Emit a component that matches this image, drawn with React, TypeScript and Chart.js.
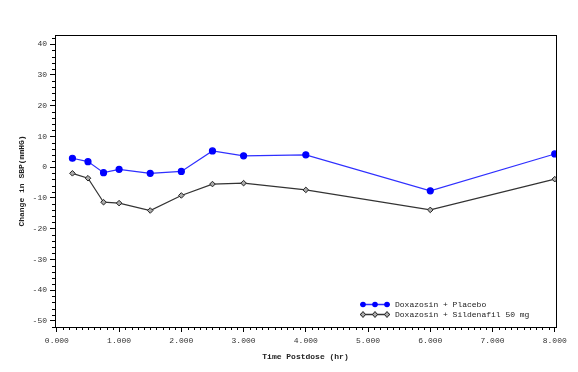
import React, { useEffect, useRef } from "react";
import { Chart, registerables } from "chart.js";

Chart.register(...registerables);

const times = [0.25, 0.5, 0.75, 1, 1.5, 2, 2.5, 3, 4, 6, 8];
const placebo = [2.9, 1.8, -1.8, -0.7, -2.0, -1.4, 5.3, 3.7, 4.0, -7.7, 4.3];
const sildenafil = [-2.0, -3.6, -11.4, -11.7, -14.1, -9.2, -5.5, -5.2, -7.4, -13.9, -3.9];
const xTicks = [0, 1, 2, 3, 4, 5, 6, 7, 8];
const yTicks = [-50, -40, -30, -20, -10, 0, 10, 20, 30, 40];
const seriesLabels = ["Doxazosin + Placebo", "Doxazosin + Sildenafil 50 mg"];

const FONT = "'Liberation Mono', 'DejaVu Sans Mono', monospace";

const framePlugin = {
  id: "frameAndMinor",
  afterDraw(chart: any) {
    const ctx = chart.ctx;
    const { left, right, top, bottom } = chart.chartArea;
    const xs = chart.scales.x;
    const ys = chart.scales.y;
    ctx.save();
    ctx.strokeStyle = "#000";
    ctx.lineWidth = 1;
    ctx.strokeRect(Math.round(left) + 0.5, Math.round(top) + 0.5, Math.round(right - left), Math.round(bottom - top));
    ctx.beginPath();
    for (let i = 0; i <= 80; i++) {
      if (i % 10 === 0) continue;
      const px = Math.round(xs.getPixelForValue(i / 10)) + 0.5;
      ctx.moveTo(px, Math.round(bottom));
      ctx.lineTo(px, Math.round(bottom) + 3);
    }
    for (let v = -52; v <= 43; v += 2) {
      if (v % 10 === 0) continue;
      const py = Math.round(ys.getPixelForValue(v)) + 0.5;
      ctx.moveTo(Math.round(left), py);
      ctx.lineTo(Math.round(left) - 3, py);
    }
    ctx.stroke();

    // legend
    const lx = 360;
    let ly = 304;
    chart.data.datasets.forEach((ds: any, i: number) => {
      const y = ly + i * 10;
      ctx.strokeStyle = ds.borderColor;
      ctx.lineWidth = 1.5;
      ctx.beginPath();
      ctx.moveTo(lx, y + 0.5);
      ctx.lineTo(lx + 30, y + 0.5);
      ctx.stroke();
      for (let k = 0; k < 3; k++) {
        const cx = lx + 3 + k * 12;
        ctx.beginPath();
        if (ds.pointStyle === "circle") {
          ctx.fillStyle = ds.pointBackgroundColor;
          ctx.arc(cx, y + 0.5, 2.8, 0, Math.PI * 2);
          ctx.fill();
        } else {
          ctx.fillStyle = ds.pointBackgroundColor;
          ctx.strokeStyle = ds.pointBorderColor;
          ctx.lineWidth = 1;
          ctx.moveTo(cx, y - 2.5);
          ctx.lineTo(cx + 2.5, y + 0.5);
          ctx.lineTo(cx, y + 3.5);
          ctx.lineTo(cx - 2.5, y + 0.5);
          ctx.closePath();
          ctx.fill();
          ctx.stroke();
        }
      }
      ctx.fillStyle = "#222";
      ctx.font = `8px ${FONT}`;
      ctx.textBaseline = "middle";
      ctx.textAlign = "left";
      ctx.fillText(ds.label, lx + 35, y + 0.5);
    });
    ctx.restore();
  },
};

export default function App() {
  const ref = useRef<HTMLCanvasElement>(null);
  useEffect(() => {
    document.body.style.margin = "0";
    const chart = new Chart(ref.current as HTMLCanvasElement, {
      type: "line",
      data: {
        datasets: [
          {
            label: seriesLabels[0],
            data: times.map((t, i) => ({ x: t, y: placebo[i] })),
            borderColor: "#2f2fff",
            backgroundColor: "#0000ff",
            pointBackgroundColor: "#0000ff",
            pointBorderColor: "#0000ff",
            pointStyle: "circle",
            pointRadius: 3,
            borderWidth: 1.2,
            tension: 0,
          },
          {
            label: seriesLabels[1],
            data: times.map((t, i) => ({ x: t, y: sildenafil[i] })),
            borderColor: "#333333",
            backgroundColor: "#888888",
            pointBackgroundColor: "#aaaaaa",
            pointBorderColor: "#222222",
            pointBorderWidth: 1,
            pointStyle: "rectRot",
            pointRadius: 2.8,
            borderWidth: 1.2,
            tension: 0,
          },
        ],
      },
      options: {
        animation: false,
        responsive: false,
        layout: { padding: { left: 0, top: 35, right: 22, bottom: 0 } },
        plugins: { legend: { display: false }, tooltip: { enabled: false } },
        scales: {
          x: {
            type: "linear",
            min: -0.03,
            max: 8.02,
            afterBuildTicks: (axis: any) => {
              axis.ticks = xTicks.map((v) => ({ value: v }));
            },
            afterFit: (s: any) => {
              s.height = 45;
            },
            ticks: {
              callback: (v: any) => Number(v).toFixed(3),
              font: { family: FONT, size: 8 },
              color: "#333",
              padding: 4,
              maxRotation: 0,
              autoSkip: false,
            },
            grid: { drawOnChartArea: false, tickLength: 5, tickColor: "#000" },
            border: { display: true, color: "#000" },
            title: {
              display: true,
              text: "Time Postdose (hr)",
              font: { family: FONT, size: 8, weight: "bold" },
              color: "#222",
              padding: { top: 0, bottom: 10 },
            },
          },
          y: {
            type: "linear",
            min: -52,
            max: 43,
            afterBuildTicks: (axis: any) => {
              axis.ticks = yTicks.map((v) => ({ value: v }));
            },
            afterFit: (s: any) => {
              s.width = 55;
            },
            ticks: {
              font: { family: FONT, size: 8 },
              color: "#333",
              padding: 3,
              autoSkip: false,
            },
            grid: { drawOnChartArea: false, tickLength: 5, tickColor: "#000" },
            border: { display: true, color: "#000" },
            title: {
              display: true,
              text: "Change in SBP(mmHG)",
              font: { family: FONT, size: 8, weight: "bold" },
              color: "#222",
              padding: { top: 17, bottom: 0 },
            },
          },
        },
      },
      plugins: [framePlugin],
    });
    return () => chart.destroy();
  }, []);
  return (
    <div style={{ width: 578, height: 372, background: "#fff" }}>
      <canvas ref={ref} width={578} height={372} style={{ width: 578, height: 372, display: "block" }} />
    </div>
  );
}
